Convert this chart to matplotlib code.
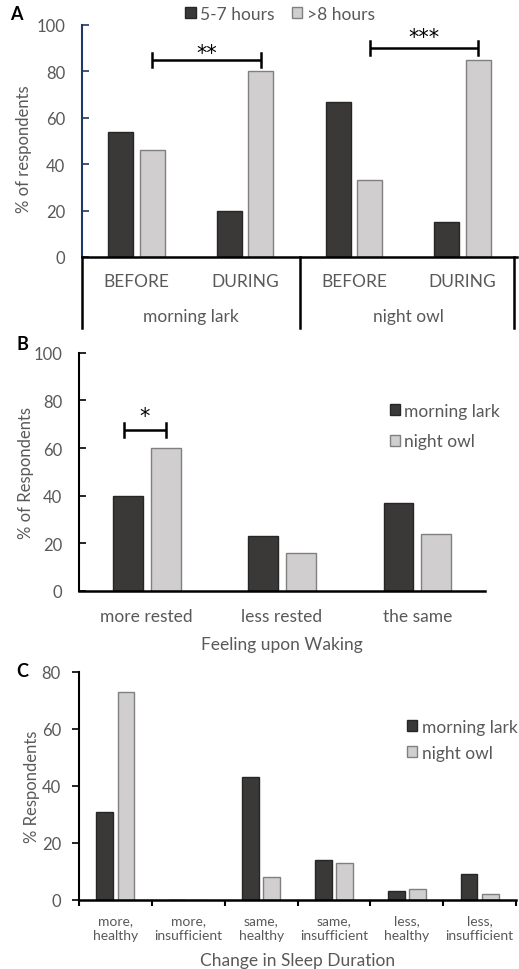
import numpy as np
import matplotlib
matplotlib.use("Agg")
import matplotlib.pyplot as plt
from matplotlib.patches import Patch

plt.rcParams['font.family'] = ['Lato', 'DejaVu Sans']

# Datos del panel A: % de encuestados por duracion del sueno
a_groups = ["morning lark", "night owl"]
a_periods = ["BEFORE", "DURING", "BEFORE", "DURING"]
a_short = [54, 20, 67, 15]   # 5-7 horas
a_long = [46, 80, 33, 85]    # >8 horas

# Datos del panel B: sensacion al despertar
b_cats = ["more rested", "less rested", "the same"]
b_lark = [40, 23, 37]
b_owl = [60, 16, 24]

# Datos del panel C: cambio en la duracion del sueno
c_cats = ["more,\nhealthy", "more,\ninsufficient", "same,\nhealthy",
          "same,\ninsufficient", "less,\nhealthy", "less,\ninsufficient"]
c_lark = [31, 0, 43, 14, 3, 9]
c_owl = [73, 0, 8, 13, 4, 2]

# Colores
dark = '#3b3838'
dark_edge = '#262626'
light = '#d0cece'
light_edge = '#808080'
txt = '#595959'
navy = '#203864'

fig = plt.figure(figsize=(5.19, 9.70), dpi=100)


def bracket(ax, x1, x2, y, h, stars, ys):
    ax.plot([x1, x2], [y, y], color='black', lw=1.8, solid_capstyle='butt', clip_on=False)
    ax.plot([x1, x1], [y - h, y + h], color='black', lw=1.8, clip_on=False)
    ax.plot([x2, x2], [y - h, y + h], color='black', lw=1.8, clip_on=False)
    ax.text((x1 + x2) / 2, ys, stars, ha='center', va='baseline', fontsize=15,
            color='black', family='DejaVu Sans')


# ---------------- Panel A ----------------
axA = fig.add_axes([82 / 519, 1 - 258 / 970, 435 / 519, 232 / 970])
x = np.arange(len(a_periods))
w = 0.23
off = 0.145
axA.bar(x - off, a_short, w, color=dark, edgecolor=dark_edge, lw=1, label='5-7 hours')
axA.bar(x + off, a_long, w, color=light, edgecolor=light_edge, lw=1, label='>8 hours')
axA.set_xlim(-0.5, 3.5)
axA.set_ylim(0, 100)
axA.set_yticks(range(0, 101, 20))
axA.set_xticks([])
axA.tick_params(axis='y', direction='in', length=5, width=1.2, color=navy,
                labelsize=12, labelcolor=txt, pad=12)
for s in ['top', 'right']:
    axA.spines[s].set_visible(False)
axA.spines['left'].set_color(navy)
axA.spines['left'].set_linewidth(1.5)
axA.spines['bottom'].set_linewidth(1.8)
axA.set_ylabel('% of respondents', fontsize=12, color=txt)
axA.yaxis.set_label_coords(-0.114, 0.47)

# Caja de categorias bajo el eje
for xv in [-0.5, 1.5, 3.47]:
    axA.plot([xv, xv], [0, -30.5], color='black', lw=1.8, clip_on=False)
for xi, lab in zip(x, a_periods):
    axA.text(xi, -10.5, lab, ha='center', va='center', fontsize=12.5, color=txt)
for xi, lab in zip([0.5, 2.5], a_groups):
    axA.text(xi, -25.5, lab, ha='center', va='center', fontsize=12.5, color=txt)

bracket(axA, 0 + off, 1 + off, 85, 3, '**', 85.3)
bracket(axA, 2 + off, 3 + off, 90, 3, '***', 92.2)

fig.legend(handles=[Patch(facecolor=dark, edgecolor=dark_edge, label='5-7 hours'),
                    Patch(facecolor=light, edgecolor=light_edge, label='>8 hours')],
           loc='center', bbox_to_anchor=(280 / 519, 1 - 15 / 970), ncol=2, frameon=False,
           fontsize=12.5, handlelength=0.6, handleheight=0.6, handletextpad=0.25,
           columnspacing=1.0, labelcolor=txt, borderpad=0)
fig.text(10 / 519, 1 - 15 / 970, 'A', fontsize=13, fontweight='bold', va='center')

# ---------------- Panel B ----------------
axB = fig.add_axes([79 / 519, 1 - 592 / 970, 406 / 519, 238.3 / 970])
xb = np.arange(len(b_cats))
wb = 0.22
offb = 0.14
axB.bar(xb - offb, b_lark, wb, color=dark, edgecolor=dark_edge, lw=1, label='morning lark')
axB.bar(xb + offb, b_owl, wb, color=light, edgecolor=light_edge, lw=1, label='night owl')
axB.set_xlim(-0.5, 2.5)
axB.set_ylim(0, 100)
axB.set_yticks(range(0, 101, 20))
axB.set_xticks(xb)
axB.set_xticklabels(b_cats)
axB.tick_params(axis='y', direction='in', length=5, width=1.2,
                labelsize=12, labelcolor=txt, pad=12)
axB.tick_params(axis='x', length=0, labelsize=12.5, labelcolor=txt, pad=12)
for s in ['top', 'right']:
    axB.spines[s].set_visible(False)
axB.spines['left'].set_linewidth(1.5)
axB.spines['bottom'].set_linewidth(1.8)
axB.set_ylabel('% of Respondents', fontsize=12, color=txt)
axB.yaxis.set_label_coords(-0.11, 0.5)
axB.set_xlabel('Feeling upon Waking', fontsize=12.5, color=txt, labelpad=9)
bracket(axB, -0.17, 0 + offb, 67.5, 3, '*', 70.8)
axB.legend(loc='upper left', bbox_to_anchor=(0.765, 0.79), frameon=False, fontsize=12.5,
           handlelength=0.6, handleheight=0.6, handletextpad=0.25, labelspacing=0.85,
           labelcolor=txt, borderaxespad=0, borderpad=0)
fig.text(17 / 519, 1 - 345 / 970, 'B', fontsize=13, fontweight='bold', va='center')

# ---------------- Panel C ----------------
axC = fig.add_axes([79 / 519, 1 - 901 / 970, 437 / 519, 228.3 / 970])
xc = np.arange(len(c_cats))
wc = 0.23
offc = 0.145
axC.bar(xc - offc, c_lark, wc, color=dark, edgecolor=dark_edge, lw=1, label='morning lark')
axC.bar(xc + offc, c_owl, wc, color=light, edgecolor=light_edge, lw=1, label='night owl')
axC.set_xlim(-0.5, 5.5)
axC.set_ylim(0, 80)
axC.set_yticks(range(0, 81, 20))
axC.set_xticks(xc)
axC.set_xticklabels(c_cats, linespacing=1.3)
axC.set_xticks(np.arange(-0.5, 6, 1), minor=True)
axC.tick_params(axis='y', direction='out', length=5, width=1.2,
                labelsize=12, labelcolor=txt, pad=8)
axC.tick_params(axis='x', which='major', length=0, labelsize=10, labelcolor=txt, pad=10)
axC.tick_params(axis='x', which='minor', direction='out', length=4, width=1.5)
for s in ['top', 'right']:
    axC.spines[s].set_visible(False)
axC.spines['left'].set_linewidth(1.5)
axC.spines['bottom'].set_linewidth(1.8)
axC.set_ylabel('% Respondents', fontsize=12, color=txt)
axC.yaxis.set_label_coords(-0.09, 0.5)
axC.set_xlabel('Change in Sleep Duration', fontsize=12.5, color=txt, labelpad=8)
axC.legend(loc='upper left', bbox_to_anchor=(0.75, 0.795), frameon=False, fontsize=12.5,
           handlelength=0.6, handleheight=0.6, handletextpad=0.25, labelspacing=0.6,
           labelcolor=txt, borderaxespad=0, borderpad=0)
fig.text(16 / 519, 1 - 672 / 970, 'C', fontsize=13, fontweight='bold', va='center')

fig.savefig('out.png', dpi=100)
